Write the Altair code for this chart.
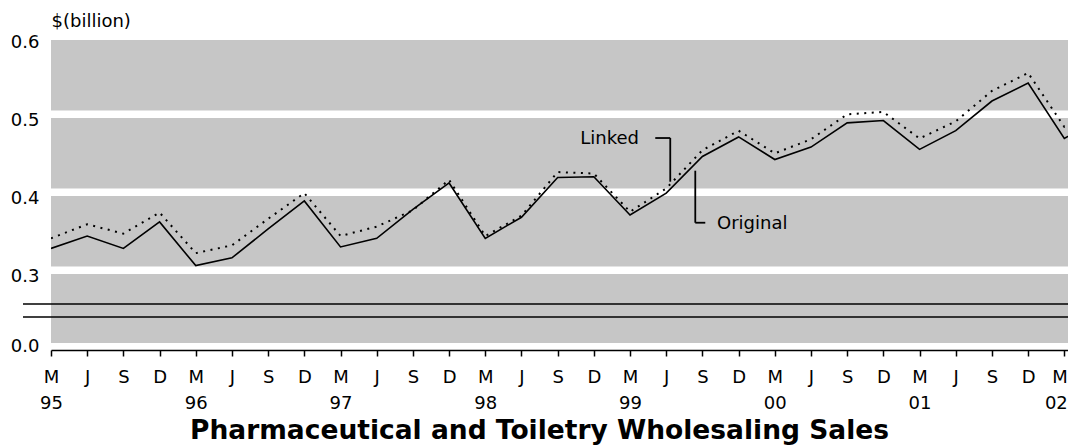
import altair as alt
import pandas as pd

# ---- data ----
periods = ["1995-03", "1995-06", "1995-09", "1995-12",
           "1996-03", "1996-06", "1996-09", "1996-12",
           "1997-03", "1997-06", "1997-09", "1997-12",
           "1998-03", "1998-06", "1998-09", "1998-12",
           "1999-03", "1999-06", "1999-09", "1999-12",
           "2000-03", "2000-06", "2000-09", "2000-12",
           "2001-03", "2001-06", "2001-09", "2001-12",
           "2002-03", "2002-04"]
original = [0.328, 0.344, 0.328, 0.362,
            0.306, 0.316, 0.353, 0.389,
            0.330, 0.341, 0.378, 0.412,
            0.341, 0.368, 0.419, 0.420,
            0.371, 0.399, 0.446, 0.471,
            0.442, 0.458, 0.489, 0.492,
            0.455, 0.479, 0.517, 0.540,
            0.469, 0.478]
linked = [0.341, 0.359, 0.347, 0.374,
          0.322, 0.332, 0.366, 0.399,
          0.344, 0.356, 0.377, 0.416,
          0.344, 0.370, 0.426, 0.424,
          0.375, 0.405, 0.454, 0.479,
          0.450, 0.468, 0.500, 0.503,
          0.469, 0.491, 0.530, 0.553,
          0.484, 0.488]

x_tick_periods = periods[:-1]                 # quarterly ticks, Mar 95 .. Mar 02
y_tick_values = [0.2104, 0.3, 0.4, 0.5, 0.6]  # 0.2104 = where the broken axis shows "0.0"
grid_values = [0.3, 0.4, 0.5, 0.6]
break_values = [0.2568, 0.2401]

ann_text = ["Linked", "Original"]
ann_t = [1998.8226, 1999.7673]
ann_v = [0.4687, 0.3594]
seg_t = [1999.3409, 1999.4445, 1999.6173, 1999.6173]
seg_t2 = [1999.4445, 1999.4445, 1999.6173, 1999.6864]
seg_v = [0.4696, 0.4696, 0.4277, 0.3610]
seg_v2 = [0.4696, 0.4136, 0.3610, 0.3610]


def to_t(p):
    y, m = p.split("-")
    return int(y) + (int(m) - 1) / 12


t_vals = [to_t(p) for p in periods]
x_ticks = [to_t(p) for p in x_tick_periods]

lines_df = pd.DataFrame({
    "t": t_vals * 2,
    "value": original + linked,
    "series": ["Original"] * len(original) + ["Linked"] * len(linked),
})
grid_df = pd.DataFrame({"v": grid_values})
break_df = pd.DataFrame({"v": break_values})
ann_df = pd.DataFrame({"t": ann_t, "v": ann_v, "label": ann_text})
seg_df = pd.DataFrame({"t": seg_t, "t2": seg_t2, "v": seg_v, "v2": seg_v2})

W, H = 1017, 307
X_DOMAIN = [1995 + 2 / 12, 1995 + 2 / 12 + W / 144.76]
Y_DOMAIN = [0.2068, 0.6004]
FONT = "DejaVu Sans"

xs = alt.Scale(domain=X_DOMAIN, nice=False, zero=False)
ys = alt.Scale(domain=Y_DOMAIN, nice=False, zero=False)

month_expr = "round((datum.value - floor(datum.value)) * 12)"
x_label_expr = (
    f"{month_expr} == 2 ? ['M', slice('' + floor(datum.value), 2)] : "
    f"{month_expr} == 5 ? 'J' : {month_expr} == 8 ? 'S' : 'D'"
)
last_tick_test = f"datum.value > {x_ticks[-1] - 0.01}"

x_axis = alt.Axis(
    values=x_ticks, labelExpr=x_label_expr, title=None, grid=False,
    offset=7, domainColor="black", domainWidth=1.5,
    tickColor="black", tickWidth=1.5, tickSize=6,
    labelPadding=12, labelBaseline="top", labelLineHeight=26,
    labelFontSize=18, labelFont=FONT, labelColor="black",
    labelFlush=False, labelOverlap=False,
    labelAlign={"condition": {"test": last_tick_test, "value": "right"},
                "value": "center"},
    labelOffset={"condition": {"test": last_tick_test, "value": 3},
                 "value": 0},
)
y_axis = alt.Axis(
    values=y_tick_values,
    labelExpr="datum.value < 0.25 ? '0.0' : format(datum.value, '.1f')",
    ticks=False, domain=False, grid=False,
    labelFontSize=18, labelFont=FONT, labelColor="black",
    labelPadding=12, labelOffset=6, labelOverlap=False, labelFlush=False,
    title="$(billion)", titleAngle=0, titleAlign="left", titleX=0, titleY=-15,
    titleBaseline="middle", titleFontSize=18, titleFontWeight="normal",
    titleFont=FONT, titleColor="black",
)


def X(field):
    return alt.X(field, type="quantitative", scale=xs, axis=x_axis)


def Y(field):
    return alt.Y(field, type="quantitative", scale=ys, axis=y_axis)


grid = alt.Chart(grid_df).mark_rule(color="white", strokeWidth=7.5).encode(
    y=Y("v")
)

breaks = alt.Chart(break_df).mark_rule(color="black", strokeWidth=1.6).encode(
    y=Y("v"),
    x=alt.value(-28),
    x2=alt.value(W),
)

orig_line = alt.Chart(lines_df).transform_filter(
    alt.datum.series == "Original"
).mark_line(color="black", strokeWidth=1.6, clip=True).encode(
    x=X("t"),
    y=Y("value"),
)

linked_line = alt.Chart(lines_df).transform_filter(
    alt.datum.series == "Linked"
).mark_line(color="black", strokeWidth=2, strokeDash=[2, 5.5], clip=True).encode(
    x=X("t"),
    y=Y("value"),
)

callouts = alt.Chart(seg_df).mark_rule(color="black", strokeWidth=1.8).encode(
    x=X("t"), x2="t2:Q",
    y=Y("v"), y2="v2:Q",
)

ann = alt.Chart(ann_df).mark_text(
    align="left", baseline="middle", fontSize=18, font=FONT, color="black"
).encode(
    x=X("t"),
    y=Y("v"),
    text="label:N",
)

chart = alt.layer(
    grid, breaks, orig_line, linked_line, callouts, ann
).properties(
    width=W, height=H,
    title=alt.TitleParams(
        "Pharmaceutical and Toiletry Wholesaling Sales",
        orient="bottom", anchor="middle", frame="group",
        fontSize=26.5, fontWeight="bold", font=FONT, color="black",
        offset=6, dx=-20, baseline="top",
    ),
    autosize=alt.AutoSizeParams(type="none"),
    padding={"left": 43, "top": 28, "right": 0, "bottom": 105},
).configure(
    background="white"
).configure_view(
    fill="#c6c6c6", stroke=None
)

chart.save("out.html", embed_options={"renderer": "svg", "actions": False})
